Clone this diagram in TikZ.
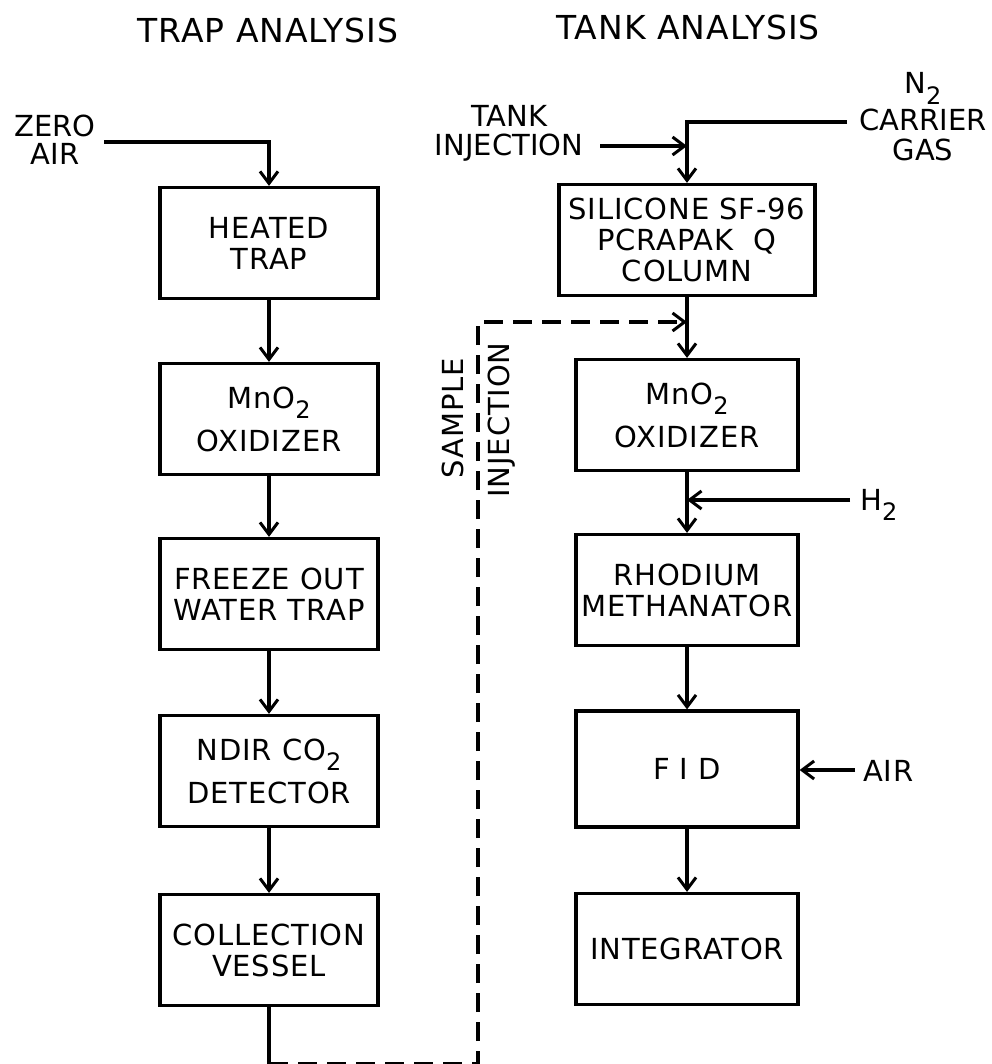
\documentclass[tikz,border=0pt]{standalone}
\usepackage{fontspec}
\setmainfont{DejaVu Sans}
\usepackage{tikz}
\usetikzlibrary{arrows.meta}
\newcommand{\subtwo}{\raisebox{-0.36em}{\fontsize{24}{24}\selectfont 2}}
\newcommand{\boxfont}{\fontsize{29}{31}\selectfont\addfontfeature{LetterSpace=3}}
\newcommand{\ttlfont}{\fontsize{33}{33}\selectfont\addfontfeature{LetterSpace=3}}
\tikzset{blk/.style={draw,line width=3.2pt,minimum width=218pt,minimum height=111pt,align=center,font=\boxfont,inner sep=0pt}}
\tikzset{lbl/.style={align=center,font=\boxfont,inner sep=0pt}}
\tikzset{ttl/.style={font=\ttlfont,inner sep=0pt}}
\tikzset{flow/.style={line width=3.2pt,-{Straight Barb[length=12pt,width=18pt,line width=3pt]}}}
\tikzset{pipe/.style={line width=3.2pt}}
\tikzset{inj/.style={line width=3.2pt,dash pattern=on 19pt off 10pt}}

\begin{document}
\begin{tikzpicture}[x=1pt,y=-1pt]
\useasboundingbox (0,0) rectangle (991,1064);
% titles
\node[ttl] (trapttl) at (268,30) {TRAP ANALYSIS};
\node[ttl] (tankttl) at (688,27) {TANK ANALYSIS};
% trap analysis column
\node[blk] (heat) at (269,243) {HEATED\\TRAP};
\node[blk] (mnoL) at (269,419) {MnO\subtwo\\[10pt]OXIDIZER};
\node[blk] (freeze) at (269,594) {FREEZE OUT\\WATER TRAP};
\node[blk] (ndir) at (269,771) {NDIR CO\subtwo\\[10pt]DETECTOR};
\node[blk] (coll) at (269,950) {COLLECTION\\VESSEL};
\node[lbl,font=\fontsize{29}{28}\selectfont] (zeroair) at (55,140) {ZERO\\AIR};
% tank analysis column
\node[blk,minimum width=256pt] (sil) at (687,240) {SILICONE SF-96\\PCRAPAK\ \ Q\\COLUMN};
\node[blk,minimum width=222pt] (mnoR) at (687,415) {MnO\subtwo\\[10pt]OXIDIZER};
\node[blk,minimum width=222pt] (rhod) at (687,590) {RHODIUM\\METHANATOR};
\node[blk,minimum width=222pt,minimum height=116pt] (fid) at (687,769) {F I D};
\node[blk,minimum width=222pt] (integ) at (687,949) {INTEGRATOR};
\node[lbl,font=\fontsize{29}{29}\selectfont] (tankinj) at (509,133) {TANK\\INJECTION};
\node[lbl,font=\fontsize{29}{30}\selectfont] (carrier) at (923,117) {N\subtwo\\[4pt]CARRIER\\GAS};
\node[lbl,anchor=west] (h2) at (860,505) {H\subtwo};
\node[lbl,anchor=west] (air) at (863,771) {AIR};
\node[lbl,rotate=90] (sample) at (453,418) {SAMPLE};
\node[lbl,rotate=90] (sampinj) at (502,420) {INJECTION};
% free ends
\coordinate (zsrc) at (104,142);
\coordinate (nsrc) at (847,122);
\coordinate (tsrc) at (600,146);
\coordinate (hsrc) at (850,500);
\coordinate (asrc) at (855,770);
\coordinate (bl) at (269,1064);
\coordinate (br) at (478,1064);
\coordinate (tl) at (478,322);
% trap flow
\draw[flow] (zsrc) -| (heat.north);
\draw[flow] (heat.south) -- (mnoL.north);
\draw[flow] (mnoL.south) -- (freeze.north);
\draw[flow] (freeze.south) -- (ndir.north);
\draw[flow] (ndir.south) -- (coll.north);
% tank flow
\draw[flow] (nsrc) -| (sil.north);
\draw[flow] (tsrc) -- (tsrc -| sil.north);
\draw[flow] (sil.south) -- (mnoR.north);
\draw[flow] (mnoR.south) -- (rhod.north);
\draw[flow] (hsrc) -- (hsrc -| rhod.north);
\draw[flow] (rhod.south) -- (fid.north);
\draw[flow] (asrc) -- (asrc -| fid.east);
\draw[flow] (fid.south) -- (integ.north);
% sample injection
\draw[pipe] (coll.south) -- (bl);
\draw[inj,-{Straight Barb[length=12pt,width=18pt,line width=3pt]}] (bl) -- (br) -- (tl) -- (tl -| sil.south);
\end{tikzpicture}
\end{document}
